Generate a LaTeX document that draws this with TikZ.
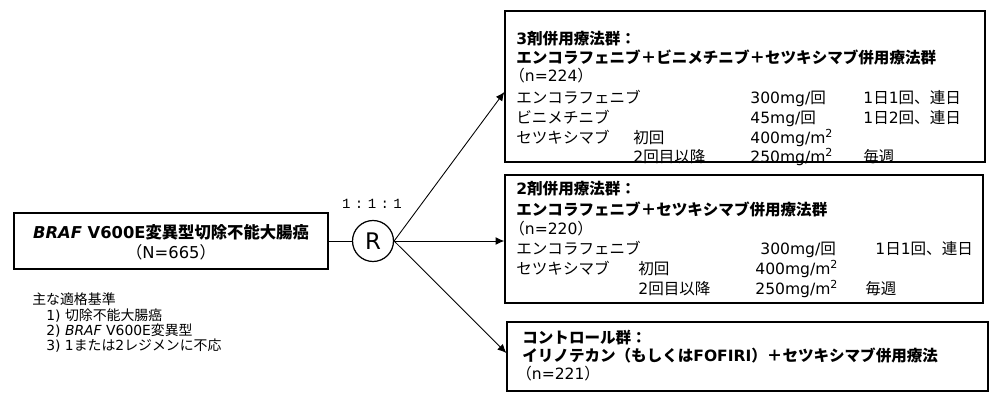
\documentclass[tikz,border=0pt]{standalone}
\usepackage{fontspec}
\setmainfont{DejaVu Sans}
\newfontfamily\jp{Noto Sans CJK JP}
\newfontfamily\monof{Liberation Mono}
\usetikzlibrary{arrows.meta,calc}
\newcommand\J[1]{{\jp #1}}
\newcommand\sqr{\raisebox{0.38em}{\fontsize{6.3}{6.3}\selectfont 2}}
\begin{document}
\begin{tikzpicture}[x=0.02cm,y=-0.02cm,
  box/.style={draw,line width=0.8pt,inner sep=0,fill=white},
  ln/.style={anchor=west,inner sep=0,text height=0.88em,text depth=0.12em,font=\fontsize{8.85}{10}\selectfont},
  crit/.style={anchor=west,inner sep=0,text height=0.88em,text depth=0.12em,font=\fontsize{7.9}{9}\selectfont},
  arr/.style={line width=0.5pt,-{Latex[length=5pt,width=4.5pt]}}]
\useasboundingbox (0,0) rectangle (1000,405);
% boxes
\node[box,minimum width=6.28cm,minimum height=1.12cm] (pop) at (171,241) {};
\node[box,circle,minimum size=0.82cm,line width=0.7pt,font=\fontsize{13}{13}\selectfont] (R) at (373,241) {R};
\node[box,minimum width=9.6cm,minimum height=3.02cm] (top) at (745,86.5) {};
\node[box,minimum width=9.56cm,minimum height=2.56cm] (mid) at (744,239) {};
\node[box,minimum width=9.62cm,minimum height=1.38cm] (bot) at (747.5,356.5) {};
% connectors
\draw[line width=0.5pt] (pop.east) -- (R.west);
\draw[arr] (R.east) -- ($(top.west)+(0,5.5)$);
\draw[arr] (R.east) -- ($(mid.west)+(0,2)$);
\draw[arr] (R.east) -- ($(bot.west)+(0,-3.5)$);
\node[inner sep=0,font=\monof\fontsize{8}{9}\selectfont] (ratio) at (372,204) {1\hspace{2.5pt}:\hspace{2.5pt}1\hspace{2.5pt}:\hspace{2.5pt}1};
% population text
\node[anchor=center,inner sep=0,text height=0.88em,text depth=0.12em,font=\fontsize{9.3}{10}\selectfont\bfseries] (pop1) at (171,232) {\textit{BRAF} V600E\J{変異型切除不能大腸癌}};
\node[anchor=center,inner sep=0,text height=0.88em,text depth=0.12em,font=\fontsize{9.3}{10}\selectfont] (pop2) at (171,252) {\J{（}N=665\J{）}};
% criteria
\node[crit] (c0) at (32,298) {\J{主な適格基準}};
\node[crit] (c1) at (46,313.5) {1) \J{切除不能大腸癌}};
\node[crit] (c2) at (46,328.5) {2) \textit{BRAF} V600E\J{変異型}};
\node[crit] (c3) at (46,343.5) {3) 1\J{または}2\J{レジメンに不応}};
% top box
\node[ln,font=\fontsize{8.85}{10}\selectfont\bfseries] (t1) at (516,38) {3\J{剤併用療法群：}};
\node[ln,font=\fontsize{8.85}{10}\selectfont\bfseries] (t2) at (516,57) {\J{エンコラフェニブ＋ビニメチニブ＋セツキシマブ併用療法群}};
\node[ln] (t3) at (509,75) {\J{（}n=224\J{）}};
\node[ln] (t4a) at (516,97) {\J{エンコラフェニブ}};
\node[ln] (t4b) at (750,97) {300mg/\J{回}};
\node[ln] (t4c) at (863,97) {1\J{日}1\J{回、連日}};
\node[ln] (t5a) at (516,117) {\J{ビニメチニブ}};
\node[ln] (t5b) at (750,117) {45mg/\J{回}};
\node[ln] (t5c) at (863,117) {1\J{日}2\J{回、連日}};
\node[ln] (t6a) at (516,137) {\J{セツキシマブ}};
\node[ln] (t6b) at (633,137) {\J{初回}};
\node[ln] (t6c) at (750,137) {400mg/m\sqr};
\node[ln] (t7b) at (633,156) {2\J{回目以降}};
\node[ln] (t7c) at (750,156) {250mg/m\sqr};
\node[ln] (t7d) at (863,156) {\J{毎週}};
% middle box
\node[ln,font=\fontsize{8.85}{10}\selectfont\bfseries] (m1) at (516,188) {2\J{剤併用療法群：}};
\node[ln,font=\fontsize{8.85}{10}\selectfont\bfseries] (m2) at (516,209) {\J{エンコラフェニブ＋セツキシマブ併用療法群}};
\node[ln] (m3) at (509,228) {\J{（}n=220\J{）}};
\node[ln] (m4a) at (516,248) {\J{エンコラフェニブ}};
\node[ln] (m4b) at (760,248) {300mg/\J{回}};
\node[ln] (m4c) at (875,248) {1\J{日}1\J{回、連日}};
\node[ln] (m5a) at (516,268) {\J{セツキシマブ}};
\node[ln] (m5b) at (638,268) {\J{初回}};
\node[ln] (m5c) at (755,268) {400mg/m\sqr};
\node[ln] (m6b) at (638,288) {2\J{回目以降}};
\node[ln] (m6c) at (755,288) {250mg/m\sqr};
\node[ln] (m6d) at (865,288) {\J{毎週}};
% bottom box
\node[ln,font=\fontsize{8.85}{10}\selectfont\bfseries] (b1) at (522,337) {\J{コントロール群：}};
\node[ln,font=\fontsize{8.85}{10}\selectfont\bfseries] (b2) at (522,355) {\J{イリノテカン（もしくは}FOFIRI\J{）＋セツキシマブ併用療法}};
\node[ln] (b3) at (516,373) {\J{（}n=221\J{）}};
\end{tikzpicture}
\end{document}
